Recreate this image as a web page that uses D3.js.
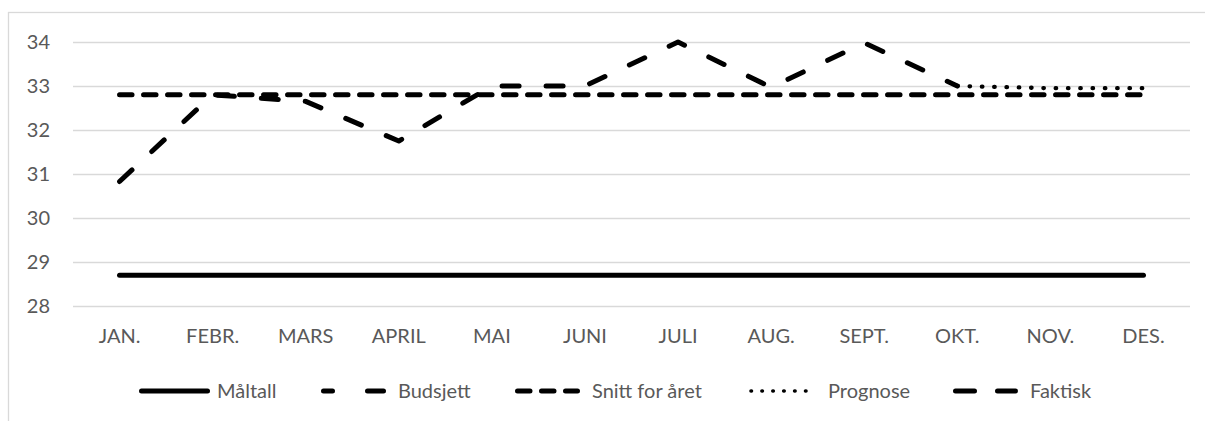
<!DOCTYPE html>
<html>
<head>
<meta charset="utf-8">
<script src="https://cdn.jsdelivr.net/npm/d3@7"></script>
<style>
  body { margin: 0; background: #fff; }
  svg { display: block; font-family: Lato, "Open Sans", sans-serif; }
</style>
</head>
<body>
<div id="container"></div>
<script>
// data
var months = ["JAN.", "FEBR.", "MARS", "APRIL", "MAI", "JUNI", "JULI", "AUG.", "SEPT.", "OKT.", "NOV.", "DES."];
var maltall  = [28.7, 28.7, 28.7, 28.7, 28.7, 28.7, 28.7, 28.7, 28.7, 28.7, 28.7, 28.7];
var budsjett = [null, null, null, null, null, null, null, null, null, null, null, null];
var snitt    = [32.8, 32.8, 32.8, 32.8, 32.8, 32.8, 32.8, 32.8, 32.8, 32.8, 32.8, 32.8];
var prognose = [null, null, null, null, null, null, null, null, null, 33, 32.95, 32.95];
var faktisk  = [30.83, 32.8, 32.65, 31.75, 33, 33, 34, 32.97, 33.98, 33, null, null];
var yTicks = [28, 29, 30, 31, 32, 33, 34];

var w = 1205, h = 421;
var m = {left: 73, right: 1190, top: 42, bottom: 306};
var textColor = "#595959", gridColor = "#d9d9d9";

var svg = d3.select("#container").append("svg").attr("width", w).attr("height", h);

// chart area border (runs past the picture on right and bottom)
svg.append("rect")
  .attr("x", 8.5).attr("y", 12.5)
  .attr("width", 1400).attr("height", 600)
  .attr("fill", "white")
  .attr("stroke", gridColor)
  .attr("stroke-width", 1.3);

var x = d3.scaleBand().domain(months).range([m.left, m.right]).padding(0);
var y = d3.scaleLinear().domain([28, 34]).range([m.bottom, m.top]);
var cx = function(d, i) { return x(months[i]) + x.bandwidth() / 2; };

// y axis + gridlines
var yAxis = svg.append("g")
  .attr("transform", "translate(" + m.left + ",0)")
  .call(d3.axisLeft(y).tickValues(yTicks).tickSize(-(m.right - m.left)).tickPadding(23).tickFormat(d3.format("d")));
yAxis.select(".domain").remove();
yAxis.selectAll("line").attr("stroke", gridColor).attr("stroke-width", 1.5);
yAxis.selectAll("text").attr("fill", textColor).attr("font-size", 20).attr("font-family", "Lato");

// x axis labels
var xAxis = svg.append("g")
  .attr("transform", "translate(0," + m.bottom + ")")
  .call(d3.axisBottom(x).tickSize(0).tickPadding(23));
xAxis.select(".domain").remove();
xAxis.selectAll("text").attr("fill", textColor).attr("font-size", 20).attr("font-family", "Lato");

var series = [
  {name: "Måltall",        values: maltall,  width: 5,   dash: null,        legendDash: null,        legendOffset: 0},
  {name: "Budsjett",       values: budsjett, width: 5,   dash: "19,35",     legendDash: "19,35",     legendOffset: 10},
  {name: "Snitt for året", values: snitt,    width: 5,   dash: "12.5,11.5", legendDash: "12.5,11.5", legendOffset: 0},
  {name: "Prognose",       values: prognose, width: 4.3, dash: "0.5,11.8",  legendDash: "0.5,10.4",  legendOffset: 0},
  {name: "Faktisk",        values: faktisk,  width: 5,   dash: "17,27",     legendDash: "19,23",     legendOffset: 0}
];

var line = d3.line()
  .defined(function(d) { return d != null; })
  .x(cx)
  .y(function(d) { return y(d); });

svg.selectAll(".series")
  .data(series)
  .enter()
  .append("path")
  .attr("class", "series")
  .attr("d", function(s) { return line(s.values); })
  .attr("fill", "none")
  .attr("stroke", "black")
  .attr("stroke-width", function(s) { return s.width; })
  .attr("stroke-linecap", "round")
  .attr("stroke-linejoin", "round")
  .attr("stroke-dasharray", function(s) { return s.dash; });

// legend
var legendX = [141.5, 323.5, 517.5, 751, 955.5];
var legendY = 391;
var leg = svg.selectAll(".leg")
  .data(series)
  .enter()
  .append("g")
  .attr("class", "leg")
  .attr("transform", function(d, i) { return "translate(" + legendX[i] + "," + legendY + ")"; });
leg.append("line")
  .attr("x1", 0).attr("x2", function(d, i) { return i == 0 ? 66 : (i == 3 ? 64 : 60); })
  .attr("y1", 0).attr("y2", 0)
  .attr("stroke", "black")
  .attr("stroke-width", function(d, i) { return i == 3 ? 3.6 : d.width; })
  .attr("stroke-linecap", "round")
  .attr("stroke-dasharray", function(d) { return d.legendDash; })
  .attr("stroke-dashoffset", function(d) { return d.legendOffset; });
leg.append("text")
  .attr("x", function(d, i) { return i == 0 ? 75.5 : (i == 3 ? 77 : 74.5); })
  .attr("y", 0)
  .attr("dy", "0.35em")
  .attr("fill", textColor)
  .attr("font-size", 20)
  .text(function(d) { return d.name; });
</script>
</body>
</html>
